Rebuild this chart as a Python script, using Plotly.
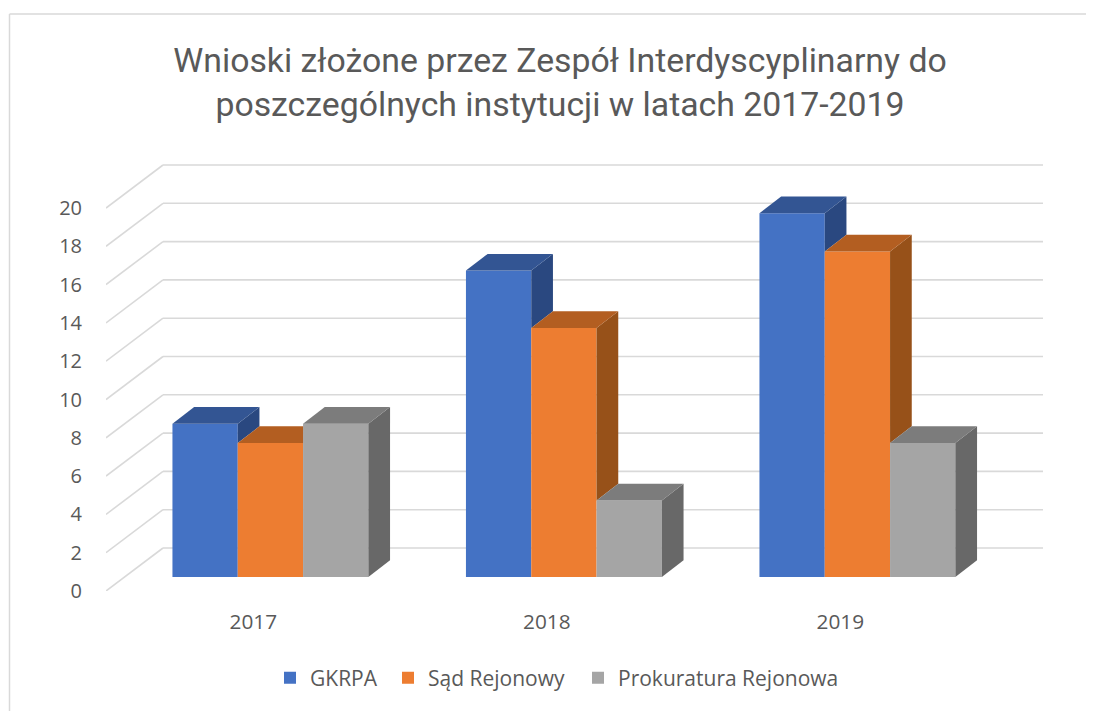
import plotly.graph_objects as go

years = ["2017", "2018", "2019"]
series_names = ["GKRPA", "Sąd Rejonowy", "Prokuratura Rejonowa"]
gkrpa = [8, 16, 19]
sad = [7, 13, 17]
prokuratura = [8, 4, 7]
series_values = [gkrpa, sad, prokuratura]
front_colors = ["#4472C4", "#ED7D31", "#A5A5A5"]
top_colors = ["#335593", "#B35E21", "#7C7C7C"]
side_colors = ["#2A4880", "#975119", "#686868"]
y_ticks = list(range(0, 21, 2))

OFF = 8                    # the page's own margin shifts the figure by this much
W, H = 1094 - OFF, 711 - OFF
PL, PR, PT, PB = 106 - OFF, 1043 - OFF, 164 - OFF, 591 - OFF   # plot box in pixels
PX_X = 293.5                                # pixels per category
PX_Y = 19.15                                # pixels per value unit
x_lo = (PL - (253.3 - OFF)) / PX_X
x_hi = (PR - (253.3 - OFF)) / PX_X
y_hi = (PB - PT) / PX_Y

bar_w = 65.3 / PX_X
shift = 17.1 / PX_X       # bars stand right of the category label
base = 14 / PX_Y          # bars stand above the front floor edge
dx, dy = 21.7 / PX_X, 16.7 / PX_Y      # bar depth
wall_dx, wall_dy = 57 / PX_X, 43 / PX_Y  # wall depth

fig = go.Figure()
xs = list(range(len(years)))
legend_ids = ["legend", "legend2", "legend3"]
legend_left = [270, 388, 578]              # pixel left edge of each legend entry

for s, (name, vals) in enumerate(zip(series_names, series_values)):
    fig.add_bar(
        x=[i + shift for i in xs], y=vals, base=base, name=name,
        legend=legend_ids[s],
        marker=dict(color=front_colors[s], line=dict(width=0)),
        hovertemplate=name + ": %{y}<extra></extra>",
    )

# depth faces, computed from the values
for s, vals in enumerate(series_values):
    for i in xs:
        v = vals[i]
        xl = i + shift + (s - 1.5) * bar_w
        xr = xl + bar_w
        nxt = series_values[s + 1][i] if s < 2 else 0
        if nxt < v:
            fig.add_scatter(
                x=[xr, xr + dx, xr + dx, xr, xr],
                y=[base + v, base + v + dy, base + nxt + dy, base + nxt, base + v],
                mode="lines", fill="toself", fillcolor=side_colors[s],
                line=dict(width=0), showlegend=False, hoverinfo="skip",
            )
    for i in xs:
        v = vals[i]
        xl = i + shift + (s - 1.5) * bar_w
        xr = xl + bar_w
        nxt = series_values[s + 1][i] if s < 2 else 0
        if nxt > v:
            tx = [xl, xr, xr, xl + dx, xl]
        else:
            tx = [xl, xr, xr + dx, xl + dx, xl]
        ty = [base + v, base + v, base + v + dy, base + v + dy, base + v]
        fig.add_scatter(
            x=tx, y=ty, mode="lines", fill="toself", fillcolor=top_colors[s],
            line=dict(width=0), showlegend=False, hoverinfo="skip",
        )

shapes = []
grid = dict(color="#D9D9D9", width=1.6)
for t in y_ticks:
    shapes.append(dict(type="line", xref="x", yref="y", layer="below", line=grid,
                       x0=x_lo, y0=t, x1=x_lo + wall_dx, y1=t + wall_dy))
    shapes.append(dict(type="line", xref="x", yref="y", layer="below", line=grid,
                       x0=x_lo + wall_dx, y0=t + wall_dy, x1=x_hi, y1=t + wall_dy))

# chart frame
def px(x):
    return (x - OFF - PL) / (PR - PL)
def py(y):
    return (PB - (y - OFF)) / (PB - PT)
frame = dict(color="#D9D9D9", width=1.5)
shapes.append(dict(type="line", xref="paper", yref="paper", line=frame,
                   x0=px(9.5), y0=py(14), x1=px(1094), y1=py(14)))
shapes.append(dict(type="line", xref="paper", yref="paper", line=frame,
                   x0=px(9.5), y0=py(14), x1=px(9.5), y1=py(711)))

FONT = "Open Sans"
def legend_at(left):
    return dict(orientation="h", x=(left - OFF) / W, xref="container", xanchor="left",
                yref="container", y=1 - (678 - OFF) / H, yanchor="middle",
                bgcolor="rgba(0,0,0,0)",
                font=dict(family=FONT, size=21, color="#595959"))

fig.update_layout(
    width=W, height=H, autosize=False,
    margin=dict(l=PL, r=W - PR, t=PT, b=H - PB, pad=0),
    paper_bgcolor="white", plot_bgcolor="rgba(0,0,0,0)",
    font=dict(family=FONT, color="#595959", size=20),
    barmode="group", bargap=1 - 3 * bar_w, bargroupgap=0,
    shapes=shapes,
    title=dict(
        text="Wnioski złożone przez Zespół Interdyscyplinarny do<br>poszczególnych instytucji w latach 2017-2019",
        x=(560 - OFF) / W, xanchor="center", xref="container",
        y=1 - (72 - OFF) / H, yanchor="middle",
        font=dict(family="Roboto", size=33.8, color="#595959"),
    ),
    legend=legend_at(legend_left[0]),
    legend2=legend_at(legend_left[1]),
    legend3=legend_at(legend_left[2]),
    xaxis=dict(range=[x_lo, x_hi], tickmode="array", tickvals=xs, ticktext=years,
               tickfont=dict(family=FONT, size=20.8, color="#595959"),
               showgrid=False, zeroline=False, showline=False, ticks="outside",
               ticklen=12, tickcolor="rgba(0,0,0,0)", automargin=False),
    yaxis=dict(range=[0, y_hi], tickmode="array", tickvals=y_ticks,
               showgrid=False, zeroline=False, showline=False, ticks="outside",
               ticklen=19, tickcolor="rgba(0,0,0,0)", automargin=False),
)
fig.write_html("out.html")
